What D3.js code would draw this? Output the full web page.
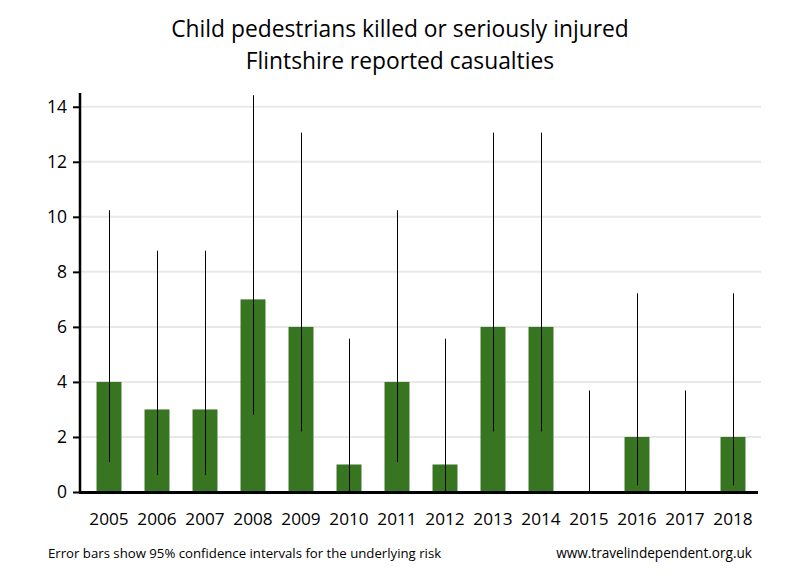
<!doctype html>
<html>
  <head>
    <meta charset="UTF-8">
    <title>Child pedestrians KSI - Flintshire</title>
    <style>
      body { margin: 0; background: #fff; }
      svg text { font-family: "Open Sans", "Noto Sans", sans-serif; fill: #000; }
      .grid line { stroke: #e8e8e8; stroke-width: 2px; }
    </style>
  </head>
  <body>
    <svg id="chart" width="800" height="580"></svg>
    <script src="https://d3js.org/d3.v7.min.js"></script>
    <script>
      // Casualties per year, with the 95% interval ends
      const years = ["2005", "2006", "2007", "2008", "2009", "2010", "2011",
                     "2012", "2013", "2014", "2015", "2016", "2017", "2018"];
      const casualties = [4, 3, 3, 7, 6, 1, 4, 1, 6, 6, 0, 2, 0, 2];
      const lowerCI = [1.09, 0.62, 0.62, 2.81, 2.2, 0.03, 1.09, 0.03, 2.2, 2.2, 0, 0.24, 0, 0.24];
      const upperCI = [10.24, 8.77, 8.77, 14.42, 13.06, 5.57, 10.24, 5.57, 13.06, 13.06, 3.69, 7.22, 3.69, 7.22];
      const yTicks = [0, 2, 4, 6, 8, 10, 12, 14];

      const svg = d3.select("#chart");

      const x = d3.scaleBand()
        .domain(years)
        .range([85, 757])
        .paddingInner(0.48)
        .paddingOuter(0.24);

      const y = d3.scaleLinear()
        .domain([0, 14.5])
        .range([492, 93]);

      // Gridlines
      svg.append("g")
        .attr("class", "grid")
        .selectAll("line")
        .data(yTicks.filter(t => t > 0))
        .enter().append("line")
          .attr("x1", 80)
          .attr("x2", 761)
          .attr("y1", d => y(d))
          .attr("y2", d => y(d));

      // Bars
      svg.append("g")
        .selectAll("rect")
        .data(years)
        .enter().append("rect")
          .attr("x", d => x(d))
          .attr("width", x.bandwidth())
          .attr("y", (d, i) => y(casualties[i]))
          .attr("height", (d, i) => y(0) - y(casualties[i]))
          .attr("fill", "#387521");

      // Error bars
      svg.append("g")
        .selectAll("line")
        .data(years)
        .enter().append("line")
          .attr("x1", d => Math.round(x(d) + x.bandwidth() / 2) + 0.5)
          .attr("x2", d => Math.round(x(d) + x.bandwidth() / 2) + 0.5)
          .attr("y1", (d, i) => y(lowerCI[i]))
          .attr("y2", (d, i) => y(upperCI[i]))
          .attr("stroke", "#000")
          .attr("stroke-width", 1);

      // Y axis
      const yAxis = d3.axisLeft(y)
        .tickValues(yTicks)
        .tickSize(7)
        .tickPadding(6);
      const gy = svg.append("g")
        .attr("transform", "translate(80,0)")
        .call(yAxis);
      gy.select(".domain").remove();
      gy.selectAll(".tick line").attr("stroke", "#000").attr("stroke-width", 2);
      gy.selectAll(".tick text").style("font-size", "17.5px");
      svg.append("line")
        .attr("x1", 80).attr("x2", 80)
        .attr("y1", 93).attr("y2", 493)
        .attr("stroke", "#000").attr("stroke-width", 2.5);

      // X axis baseline and labels
      const xAxis = d3.axisBottom(x).tickSize(0).tickPadding(21);
      const gx = svg.append("g")
        .attr("transform", "translate(0,492)")
        .call(xAxis);
      gx.select(".domain").remove();
      gx.selectAll(".tick text").style("font-size", "17.2px");
      svg.append("line")
        .attr("x1", 79).attr("x2", 758)
        .attr("y1", 492.5).attr("y2", 492.5)
        .attr("stroke", "#000").attr("stroke-width", 3);

      // Titles
      svg.append("text")
        .attr("x", 400).attr("y", 37)
        .attr("text-anchor", "middle")
        .style("font-size", "22.8px")
        .text("Child pedestrians killed or seriously injured");
      svg.append("text")
        .attr("x", 400).attr("y", 69)
        .attr("text-anchor", "middle")
        .style("font-size", "22.8px")
        .text("Flintshire reported casualties");

      // Footer notes
      svg.append("text")
        .attr("x", 48).attr("y", 558)
        .style("font-size", "13.2px")
        .text("Error bars show 95% confidence intervals for the underlying risk");
      svg.append("text")
        .attr("x", 752).attr("y", 558)
        .attr("text-anchor", "end")
        .style("font-size", "13.6px")
        .text("www.travelindependent.org.uk");
    </script>
  </body>
</html>
